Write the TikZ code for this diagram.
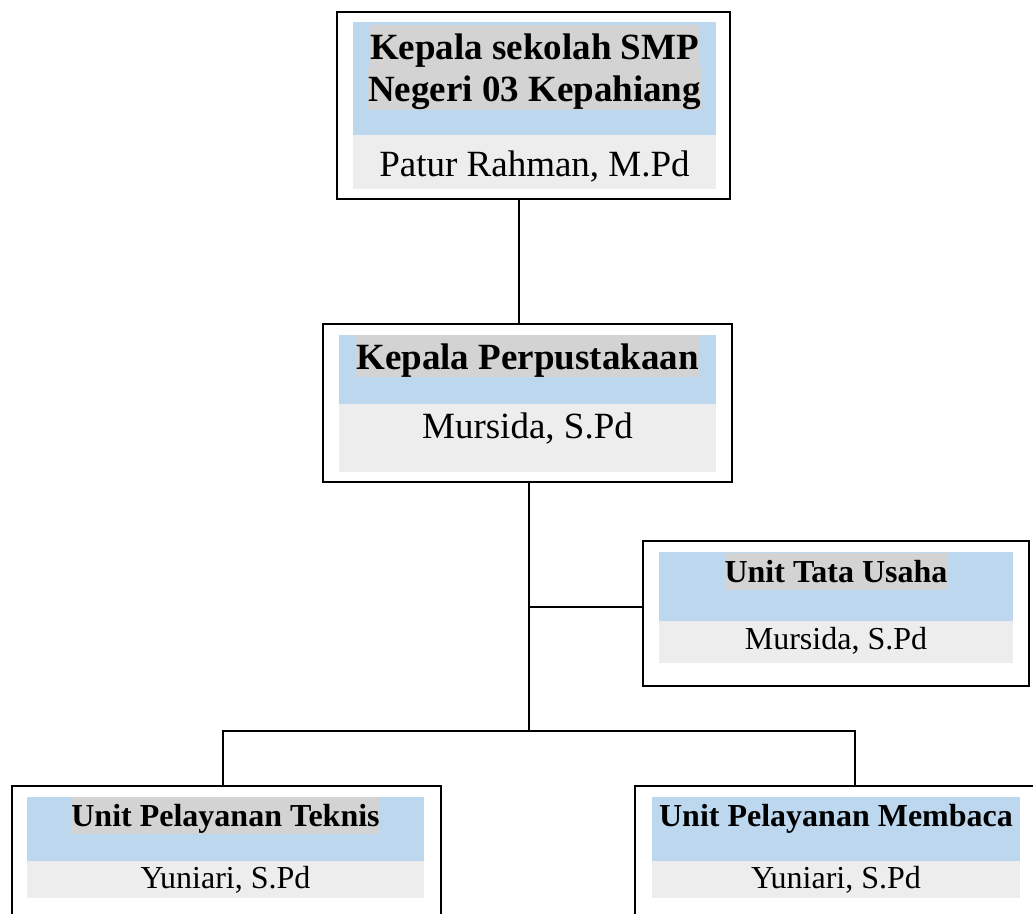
\documentclass[tikz,border=0pt]{standalone}
\usepackage{fontspec}
\setmainfont{Liberation Serif}
\definecolor{bandblue}{HTML}{BDD7EE}
\definecolor{bandgray}{HTML}{EDEDED}
\definecolor{hlgray}{HTML}{D3D3D3}
\tikzset{
  unitbox/.style={draw, line width=2.2pt, inner sep=0},
  bigtitle/.style={font=\fontsize{37}{42.5}\selectfont\bfseries, anchor=base, inner sep=0, text height=34.5pt, text depth=8pt},
  bigname/.style={font=\fontsize{37}{42.5}\selectfont, anchor=base, inner sep=0},
  smalltitle/.style={font=\fontsize{32}{37}\selectfont\bfseries, anchor=base, inner sep=0, text height=29pt, text depth=8pt},
  smallname/.style={font=\fontsize{32}{37}\selectfont, anchor=base, inner sep=0},
  hl/.style={fill=hlgray},
  link/.style={line width=2.5pt}
}
\begin{document}
\begin{tikzpicture}[x=1pt,y=-1pt]
\useasboundingbox (0,0) rectangle (1033,913);
\clip (0,0) rectangle (1033,913);
%kepala sekolah
\fill[bandblue] (353,22) rectangle (716,135);
\fill[bandgray] (353,135) rectangle (716,189);
\node[unitbox, minimum width=393pt, minimum height=187pt] (kepsek) at (533.5,105.5) {};
\node[bigtitle, hl] (kepsek1) at (534.5,59) {Kepala sekolah SMP};
\node[bigtitle, hl] (kepsek2) at (534.5,101.5) {Negeri 03 Kepahiang};
\node[bigname] (kepseknm) at (534.5,176) {Patur Rahman, M.Pd};
%kepala perpustakaan
\fill[bandblue] (339,335) rectangle (716,404);
\fill[bandgray] (339,404) rectangle (716,472);
\node[unitbox, minimum width=409pt, minimum height=158pt] (kaperpus) at (527.5,403) {};
\node[bigtitle, hl] (kaperpus1) at (527.5,369) {Kepala Perpustakaan};
\node[bigname] (kaperpusnm) at (527.5,438) {Mursida, S.Pd};
%tata usaha
\fill[bandblue] (659,552) rectangle (1013,621);
\fill[bandgray] (659,621) rectangle (1013,663);
\node[unitbox, minimum width=386pt, minimum height=145pt] (tatausaha) at (836,613.5) {};
\node[smalltitle, hl] (tatausaha1) at (836,582) {Unit Tata Usaha};
\node[smallname] (tatausahanm) at (836,649) {Mursida, S.Pd};
%pelayanan teknis
\fill[bandblue] (27,797) rectangle (424,861);
\fill[bandgray] (27,861) rectangle (424,898);
\node[unitbox, minimum width=429pt, minimum height=174pt] (teknis) at (226.5,873) {};
\node[smalltitle, hl] (teknis1) at (225.5,826) {Unit Pelayanan Teknis};
\node[smallname] (teknisnm) at (225.5,888) {Yuniari, S.Pd};
%pelayanan membaca
\fill[bandblue] (652,797) rectangle (1020,861);
\fill[bandgray] (652,861) rectangle (1020,898);
\node[unitbox, minimum width=442pt, minimum height=174pt] (membaca) at (856,873) {};
\node[smalltitle] (membaca1) at (836,826) {Unit Pelayanan Membaca};
\node[smallname] (membacanm) at (836,888) {Yuniari, S.Pd};
%garis
\coordinate (k1) at (519,260);
\coordinate (bar) at (529,731);
\coordinate (tu) at (529,607);
\coordinate (barL) at (223,731);
\coordinate (barR) at (855,731);
\draw[link] (kepsek.south -| k1) -- (kaperpus.north -| k1);
\draw[link] (kaperpus.south -| bar) -- (bar);
\draw[link] (tu) -- (tu -| tatausaha.west);
\draw[link] (teknis.north -| barL) -- (barL) -- (barR) -- (membaca.north -| barR);
\end{tikzpicture}
\end{document}
